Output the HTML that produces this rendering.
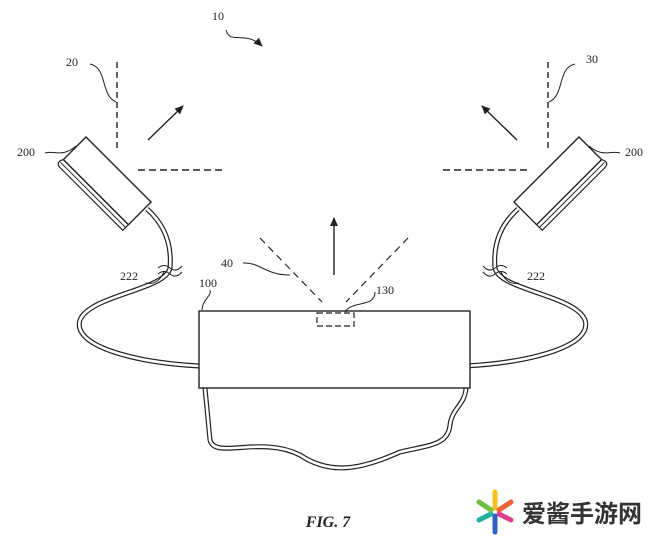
<!DOCTYPE html><html><head><style>body{margin:0;background:#fff}svg{display:block}text{font-family:"Liberation Serif",serif;font-size:12px;fill:#222}</style></head><body>
<svg width="660" height="540" viewBox="0 0 660 540" xmlns="http://www.w3.org/2000/svg">
<defs><marker id="a" markerWidth="10" markerHeight="10" refX="8" refY="5" orient="auto" markerUnits="userSpaceOnUse"><path d="M0,1 L9,5 L0,9 Z" fill="#222"/></marker>
<g id="cam"><g transform="translate(86,137) rotate(45)"><path d="M0,32 L92,32 L92,40 L4,40 Q-3,40 -1,34 Z" fill="#fff" stroke="#222" stroke-width="1.2"/><rect x="0" y="0" width="92" height="32" fill="#fff" stroke="#222" stroke-width="1.4"/><line x1="0" y1="36" x2="92" y2="36" stroke="#222" stroke-width="1"/></g></g>
<g id="side" fill="none" stroke="#222">
<path d="M147,209 C165,225 172,245 170,268 C166,290 90,295 80,320 C72,345 130,362 199,366" stroke-width="5"/>
<path d="M147,209 C165,225 172,245 170,268 C166,290 90,295 80,320 C72,345 130,362 199,366" stroke="#fff" stroke-width="2.6"/>
<path d="M158,268 q6,-5 12,0 q6,5 12,-2 M158,274 q6,-5 12,0 q6,5 12,-2" stroke-width="1" stroke="#222"/>
<line x1="117" y1="62" x2="117" y2="150" stroke-dasharray="6,4" stroke-width="1.4"/>
<line x1="138" y1="170" x2="222" y2="170" stroke-dasharray="7,4" stroke-width="1.4"/>
<line x1="148" y1="140" x2="183" y2="106" stroke-width="1.4" marker-end="url(#a)"/>
<path d="M90,64 C108,68 100,95 116,102" stroke-width="1"/>
<path d="M45,153 C55,150 62,158 76,146" stroke-width="1"/>
<path d="M146,283 C155,285 160,280 164,272" stroke-width="1"/>
</g></defs>
<use href="#side"/><use href="#cam"/>
<g transform="translate(665,0) scale(-1,1)"><use href="#side"/><use href="#cam"/></g>
<path d="M205,388 L210,440 C215,460 260,435 300,455 C330,475 360,470 400,452 C430,445 448,445 450,425 C452,408 465,405 466,388" fill="none" stroke="#222" stroke-width="5"/>
<path d="M205,388 L210,440 C215,460 260,435 300,455 C330,475 360,470 400,452 C430,445 448,445 450,425 C452,408 465,405 466,388" fill="none" stroke="#fff" stroke-width="2.6"/>
<rect x="199" y="311" width="271" height="77" fill="#fff" stroke="#222" stroke-width="1.4"/>
<rect x="317" y="313" width="37" height="13" fill="none" stroke="#222" stroke-width="1.2" stroke-dasharray="6,3"/>
<line x1="260" y1="238" x2="322" y2="302" stroke="#222" stroke-width="1.2" stroke-dasharray="7,5"/>
<line x1="408" y1="238" x2="346" y2="302" stroke="#222" stroke-width="1.2" stroke-dasharray="7,5"/>
<line x1="334" y1="275" x2="334" y2="218" stroke="#222" stroke-width="1.4" marker-end="url(#a)"/>
<g fill="none" stroke="#222" stroke-width="1"><path d="M226,30 C230,45 245,30 262,46" marker-end="url(#a)"/><path d="M243,263 C260,262 265,275 290,275"/><path d="M210,290 C212,296 202,300 202,310"/><path d="M375,292 C375,308 352,300 345,312"/></g>
<text x="212" y="20">10</text><text x="66" y="66">20</text><text x="586" y="63">30</text><text x="17" y="156">200</text><text x="625" y="156">200</text><text x="120" y="280">222</text><text x="527" y="280">222</text><text x="221" y="267">40</text><text x="199" y="287">100</text><text x="376" y="294">130</text>
<text x="328" y="527" text-anchor="middle" style="font-style:italic;font-weight:bold;font-size:16px">FIG. 7</text>
<g transform="translate(495,512)"><g stroke-width="5" stroke-linecap="round"><line x1="0" y1="-4" x2="0" y2="-20" stroke="#f5c020"/><line x1="4" y1="-2" x2="16" y2="-10" stroke="#f06030"/><line x1="4" y1="2" x2="16" y2="8" stroke="#e04090"/><line x1="0" y1="4" x2="0" y2="20" stroke="#3060c0"/><line x1="-4" y1="2" x2="-16" y2="8" stroke="#20b0a0"/><line x1="-4" y1="-2" x2="-16" y2="-10" stroke="#70c040"/></g></g>
<text x="522" y="522" style="font-family:'Noto Sans CJK SC',sans-serif;font-weight:bold;font-size:24px;fill:#333">爱酱手游网</text>
</svg></body></html>
